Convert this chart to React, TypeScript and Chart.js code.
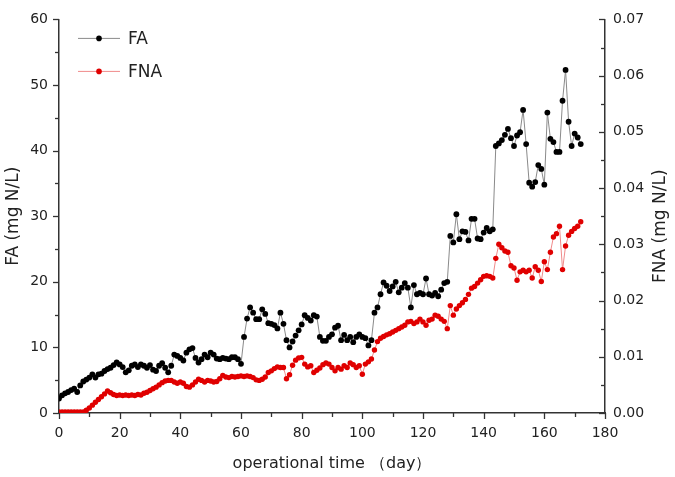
import React, { useEffect, useRef } from "react";
import { Chart, registerables } from "chart.js";
Chart.register(...registerables);

const days = [
  0, 1, 2, 3, 4, 5, 6, 7, 8, 9, 10, 11, 12, 13, 14, 15, 16, 17, 18, 19,
  20, 21, 22, 23, 24, 25, 26, 27, 28, 29, 30, 31, 32, 33, 34, 35, 36, 37, 38, 39,
  40, 41, 42, 43, 44, 45, 46, 47, 48, 49, 50, 51, 52, 53, 54, 55, 56, 57, 58, 59,
  60, 61, 62, 63, 64, 65, 66, 67, 68, 69, 70, 71, 72, 73, 74, 75, 76, 77, 78, 79,
  80, 81, 82, 83, 84, 85, 86, 87, 88, 89, 90, 91, 92, 93, 94, 95, 96, 97, 98, 99,
  100, 101, 102, 103, 104, 105, 106, 107, 108, 109, 110, 111, 112, 113, 114, 115, 116, 117, 118, 119,
  120, 121, 122, 123, 124, 125, 126, 127, 128, 129, 130, 131, 132, 133, 134, 135, 136, 137, 138, 139,
  140, 141, 142, 143, 144, 145, 146, 147, 148, 149, 150, 151, 152, 153, 154, 155, 156, 157, 158, 159,
  160, 161, 162, 163, 164, 165, 166, 167, 168, 169, 170, 171, 172,
];

const faValues = [
  2.2, 2.7, 3.0, 3.2, 3.5, 3.7, 3.2, 4.2, 4.8, 5.1,
  5.4, 5.9, 5.4, 5.9, 6.0, 6.4, 6.7, 6.9, 7.3, 7.7,
  7.4, 7.0, 6.2, 6.5, 7.2, 7.4, 7.0, 7.4, 7.2, 6.9,
  7.3, 6.6, 6.4, 7.2, 7.6, 6.9, 6.2, 7.2, 8.9, 8.7,
  8.4, 8.0, 9.2, 9.7, 9.9, 8.4, 7.7, 8.2, 8.9, 8.5,
  9.2, 8.9, 8.3, 8.2, 8.4, 8.3, 8.2, 8.5, 8.5, 8.2,
  7.5, 11.6, 14.4, 16.1, 15.3, 14.3, 14.3, 15.8, 15.1, 13.7,
  13.6, 13.4, 12.9, 15.3, 13.6, 11.1, 10.0, 10.9, 11.8, 12.6,
  13.5, 14.9, 14.5, 14.1, 14.9, 14.7, 11.6, 11.0, 11.0, 11.6,
  12.0, 13.0, 13.3, 11.1, 11.9, 11.1, 11.6, 10.8, 11.6, 12.0,
  11.6, 11.4, 10.3, 11.1, 15.3, 16.1, 18.1, 19.9, 19.4, 18.6,
  19.3, 20.0, 18.4, 19.1, 19.8, 19.1, 16.1, 19.5, 18.1, 18.3,
  18.1, 20.5, 18.1, 17.9, 18.3, 17.8, 18.8, 19.8, 20.0, 27.0,
  26.0, 30.3, 26.5, 27.7, 27.6, 26.3, 29.6, 29.6, 26.6, 26.5,
  27.5, 28.2, 27.7, 28.0, 40.7, 41.1, 41.6, 42.4, 43.3, 41.9,
  40.7, 42.3, 42.8, 46.2, 41.0, 35.1, 34.5, 35.2, 37.8, 37.2,
  34.8, 45.8, 41.8, 41.3, 39.8, 39.8, 47.6, 52.3, 44.4, 40.7,
  42.6, 42.0, 41.0,
];

const fnaValues = [
  0.0002, 0.0002, 0.0002, 0.0002, 0.0002, 0.0002, 0.0002, 0.0002, 0.0002, 0.0005,
  0.0009, 0.0014, 0.0019, 0.0024, 0.0029, 0.0034, 0.0039, 0.0036, 0.0033, 0.0031,
  0.0032, 0.0031, 0.0032, 0.0031, 0.0032, 0.0031, 0.0033, 0.0032, 0.0035, 0.0037,
  0.0040, 0.0043, 0.0046, 0.0050, 0.0054, 0.0057, 0.0058, 0.0058, 0.0055, 0.0053,
  0.0055, 0.0053, 0.0047, 0.0046, 0.0050, 0.0055, 0.0060, 0.0058, 0.0055, 0.0058,
  0.0057, 0.0055, 0.0056, 0.0061, 0.0067, 0.0064, 0.0063, 0.0065, 0.0064, 0.0065,
  0.0066, 0.0065, 0.0066, 0.0065, 0.0063, 0.0059, 0.0058, 0.0060, 0.0064, 0.0072,
  0.0075, 0.0079, 0.0082, 0.0081, 0.0081, 0.0061, 0.0068, 0.0085, 0.0094, 0.0098,
  0.0099, 0.0087, 0.0082, 0.0084, 0.0072, 0.0076, 0.0080, 0.0086, 0.0089, 0.0087,
  0.0081, 0.0075, 0.0081, 0.0078, 0.0084, 0.0081, 0.0089, 0.0086, 0.0081, 0.0084,
  0.0069, 0.0087, 0.0091, 0.0096, 0.0112, 0.0127, 0.0133, 0.0136, 0.0139, 0.0141,
  0.0144, 0.0147, 0.0150, 0.0153, 0.0156, 0.0162, 0.0163, 0.0159, 0.0162, 0.0167,
  0.0162, 0.0156, 0.0165, 0.0167, 0.0174, 0.0172, 0.0167, 0.0163, 0.0150, 0.0191,
  0.0174, 0.0185, 0.0191, 0.0196, 0.0202, 0.0211, 0.0222, 0.0225, 0.0231, 0.0237,
  0.0243, 0.0244, 0.0243, 0.0240, 0.0275, 0.0300, 0.0294, 0.0288, 0.0286, 0.0262,
  0.0258, 0.0236, 0.0251, 0.0254, 0.0251, 0.0254, 0.0240, 0.0260, 0.0254, 0.0234,
  0.0269, 0.0255, 0.0286, 0.0313, 0.0319, 0.0332, 0.0255, 0.0297, 0.0316, 0.0323,
  0.0328, 0.0332, 0.0340,
];

const xTitle = "operational time （day）";
const yLeftTitle = "FA (mg N/L)";
const yRightTitle = "FNA (mg N/L)";
const seriesNames = ["FA", "FNA"];

const FONT = "'DejaVu Sans', 'Liberation Sans', Arial, sans-serif";
const AXIS_COLOR = "#333";
const TEXT_COLOR = "#222";

const ticksPlugin = {
  id: "customTicks",
  afterDraw(chart: any) {
    const ctx = chart.ctx;
    const { x, y, y1 } = chart.scales;
    const area = chart.chartArea;
    ctx.save();
    ctx.strokeStyle = AXIS_COLOR;
    ctx.lineWidth = 1.3;
    // bottom ticks (outward)
    for (let v = 0; v <= 180; v += 10) {
      const px = Math.round(x.getPixelForValue(v)) + 0.5;
      const len = v % 20 === 0 ? 6 : 4;
      ctx.beginPath();
      ctx.moveTo(px, area.bottom);
      ctx.lineTo(px, area.bottom + len);
      ctx.stroke();
    }
    // left ticks (outward)
    for (let v = 0; v <= 60; v += 5) {
      const py = Math.round(y.getPixelForValue(v)) + 0.5;
      const len = v % 10 === 0 ? 6 : 4;
      ctx.beginPath();
      ctx.moveTo(area.left - len, py);
      ctx.lineTo(area.left, py);
      ctx.stroke();
    }
    // right ticks (inward)
    for (let i = 0; i <= 14; i++) {
      const v = i * 0.005;
      const py = Math.round(y1.getPixelForValue(v)) + 0.5;
      const len = i % 2 === 0 ? 6 : 4;
      ctx.beginPath();
      ctx.moveTo(area.right - len, py);
      ctx.lineTo(area.right, py);
      ctx.stroke();
    }
    // right axis title (reads bottom to top)
    ctx.fillStyle = TEXT_COLOR;
    ctx.font = `17px ${FONT}`;
    ctx.textAlign = "center";
    ctx.textBaseline = "middle";
    ctx.translate(area.right + 56, (area.top + area.bottom) / 2 + 10);
    ctx.rotate(-Math.PI / 2);
    ctx.fillText(yRightTitle, 0, 0);
    ctx.restore();

    // legend
    ctx.save();
    const items = [
      { name: seriesNames[0], line: "#8a8a8a", dot: "#000000", dy: 19 },
      { name: seriesNames[1], line: "#f08a8a", dot: "#e00000", dy: 52 },
    ];
    items.forEach((it) => {
      const ly = area.top + it.dy;
      ctx.strokeStyle = it.line;
      ctx.lineWidth = 1;
      ctx.beginPath();
      ctx.moveTo(area.left + 19, ly);
      ctx.lineTo(area.left + 61, ly);
      ctx.stroke();
      ctx.fillStyle = it.dot;
      ctx.beginPath();
      ctx.arc(area.left + 40, ly, 2.8, 0, Math.PI * 2);
      ctx.fill();
      ctx.fillStyle = TEXT_COLOR;
      ctx.font = `17px ${FONT}`;
      ctx.textAlign = "left";
      ctx.textBaseline = "middle";
      ctx.fillText(it.name, area.left + 69, ly + 1);
    });
    ctx.restore();
  },
};

export default function App() {
  const canvasRef = useRef<HTMLCanvasElement | null>(null);

  useEffect(() => {
    document.body.style.margin = "0";
    const canvas = canvasRef.current;
    if (!canvas) return;
    const faData = days.map((d, i) => ({ x: d, y: faValues[i] }));
    const fnaData = days.map((d, i) => ({ x: d, y: fnaValues[i] }));

    const chart = new Chart(canvas, {
      type: "line",
      data: {
        datasets: [
          {
            label: seriesNames[1],
            data: fnaData,
            yAxisID: "y1",
            borderColor: "#f08a8a",
            borderWidth: 1,
            pointRadius: 2.7,
            pointBackgroundColor: "#e00000",
            pointBorderWidth: 0,
            tension: 0,
          },
          {
            label: seriesNames[0],
            data: faData,
            yAxisID: "y",
            borderColor: "#8a8a8a",
            borderWidth: 1,
            pointRadius: 2.9,
            pointBackgroundColor: "#000000",
            pointBorderWidth: 0,
            tension: 0,
          },
        ],
      },
      options: {
        responsive: false,
        animation: false,
        layout: { padding: { top: 9, left: 0, right: 0, bottom: 0 } },
        plugins: {
          legend: { display: false },
          tooltip: { enabled: false },
        },
        scales: {
          x: {
            type: "linear",
            min: 0,
            max: 180,
            grid: { display: true, drawOnChartArea: false, drawTicks: false },
            border: { display: true, color: AXIS_COLOR, width: 1.5 },
            ticks: {
              stepSize: 20,
              padding: 12,
              maxRotation: 0,
              color: TEXT_COLOR,
              font: { family: FONT, size: 14 },
            },
            title: {
              display: true,
              text: xTitle,
              color: TEXT_COLOR,
              font: { family: FONT, size: 16 },
              padding: { top: 0, bottom: 4 },
            },
            afterFit: (s: any) => {
              s.height = 64;
            },
          },
          y: {
            type: "linear",
            position: "left",
            min: 0,
            max: 60,
            grid: { display: true, drawOnChartArea: false, drawTicks: false },
            border: { display: true, color: AXIS_COLOR, width: 1.5 },
            ticks: {
              stepSize: 10,
              padding: 11,
              color: TEXT_COLOR,
              font: { family: FONT, size: 14 },
            },
            title: {
              display: true,
              text: yLeftTitle,
              color: TEXT_COLOR,
              font: { family: FONT, size: 17 },
              padding: { top: 3, bottom: 0 },
            },
            afterFit: (s: any) => {
              s.width = 59;
            },
          },
          y1: {
            type: "linear",
            position: "right",
            min: 0,
            max: 0.07,
            grid: { display: true, drawOnChartArea: false, drawTicks: false },
            border: { display: true, color: AXIS_COLOR, width: 1.5 },
            ticks: {
              stepSize: 0.01,
              padding: 8,
              color: TEXT_COLOR,
              font: { family: FONT, size: 14 },
              callback: (v: any) => Number(v).toFixed(2),
            },
            afterFit: (s: any) => {
              s.width = 70;
            },
          },
        },
      },
      plugins: [ticksPlugin],
    });
    return () => chart.destroy();
  }, []);

  return (
    <div style={{ width: 675, height: 477, background: "#fff" }}>
      <canvas ref={canvasRef} width={675} height={477} />
    </div>
  );
}
